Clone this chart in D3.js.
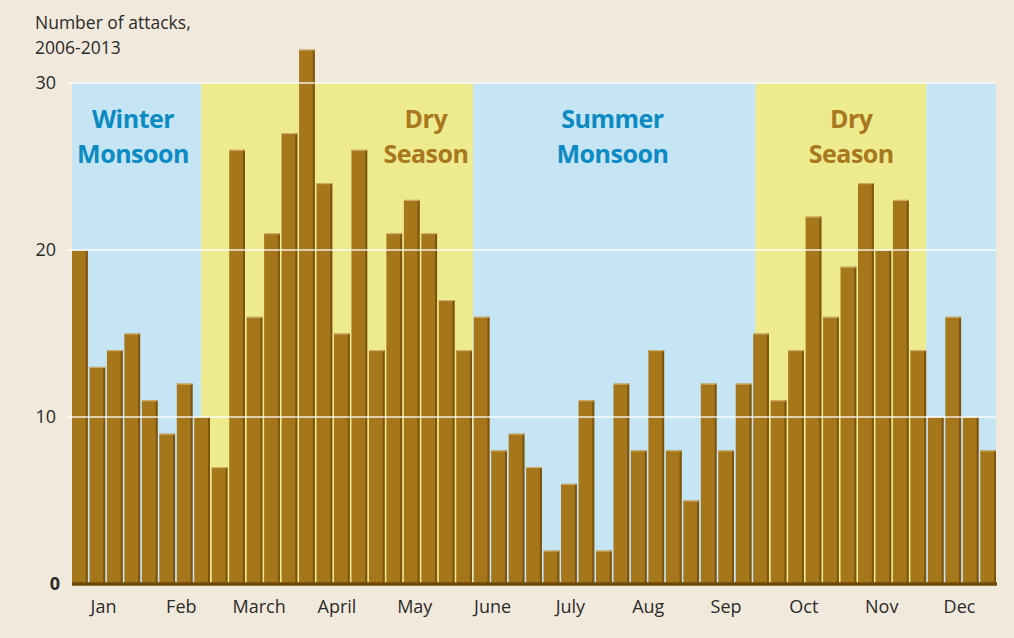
<!DOCTYPE html>
<html lang="en">
<head>
<meta charset="UTF-8">
<title>Number of attacks, 2006-2013</title>
<script src="https://d3js.org/d3.v7.min.js"></script>
<style>
  html, body { margin: 0; padding: 0; background: #f2e9dd; }
  svg { display: block; font-family: "Open Sans", "Noto Sans", sans-serif; }
</style>
</head>
<body>
<svg id="chart" width="1014" height="638"></svg>
<script>
// weekly attack counts, Jan -> Dec (53 weeks)
const attacks = [20, 13, 14, 15, 11, 9, 12, 10, 7, 26, 16, 21, 27, 32, 24, 15, 26, 14,
  21, 23, 21, 17, 14, 16, 8, 9, 7, 2, 6, 11, 2, 12, 8, 14, 8, 5, 12, 8, 12, 15,
  11, 14, 22, 16, 19, 24, 20, 23, 14, 10, 16, 10, 8];
const months = ["Jan", "Feb", "March", "April", "May", "June", "July", "Aug", "Sep", "Oct", "Nov", "Dec"];
const yTicks = [0, 10, 20, 30];

// seasons, in weeks
const seasonNames = [["Winter", "Monsoon"], ["Dry", "Season"], ["Summer", "Monsoon"], ["Dry", "Season"], null];
const seasonStart = [0, 7.4, 23, 39.2, 49];
const seasonEnd = [7.4, 23, 39.2, 49, 53];
const seasonWet = [true, false, true, false, true];
const seasonLabelWeek = [3.5, 20.3, 31, 44.7, null];

const svg = d3.select("#chart");
const plotLeft = 72, plotRight = 996, plotTop = 83, plotBottom = 584;

const x = d3.scaleBand().domain(d3.range(attacks.length)).range([plotLeft, plotRight]).paddingInner(0.1);
const xw = d3.scaleLinear().domain([0, attacks.length]).range([plotLeft, plotRight]);
const y = d3.scaleLinear().domain([0, 30]).range([plotBottom, plotTop]);
const xm = d3.scalePoint().domain(months).range([103, 959]);

// season bands
const seasons = d3.range(seasonStart.length);
svg.append("g").selectAll("rect").data(seasons).join("rect")
  .attr("x", i => xw(seasonStart[i]))
  .attr("width", i => xw(seasonEnd[i]) - xw(seasonStart[i]))
  .attr("y", y(30))
  .attr("height", y(0) - y(30))
  .attr("fill", i => seasonWet[i] ? "#c5e5f4" : "#eeea8e");

// season labels
const lab = svg.append("g").selectAll("text").data(seasons.filter(i => seasonNames[i])).join("text")
  .attr("x", i => xw(seasonLabelWeek[i]))
  .attr("y", 128)
  .attr("text-anchor", "middle")
  .attr("font-size", 25)
  .attr("font-weight", 700)
  .attr("letter-spacing", -0.5)
  .attr("fill", i => seasonWet[i] ? "#0b8ac3" : "#a8781e");
lab.append("tspan").attr("x", i => xw(seasonLabelWeek[i])).text(i => seasonNames[i][0]);
lab.append("tspan").attr("x", i => xw(seasonLabelWeek[i])).attr("dy", 35).text(i => seasonNames[i][1]);

// bars
const bars = svg.append("g").selectAll("g").data(attacks).join("g");
bars.append("rect")
  .attr("x", (d, i) => x(i))
  .attr("y", d => y(d))
  .attr("width", x.bandwidth())
  .attr("height", d => y(0) - y(d))
  .attr("fill", "#a6761a");
bars.append("rect")
  .attr("x", (d, i) => x(i) + x.bandwidth() - 2)
  .attr("y", d => y(d))
  .attr("width", 2)
  .attr("height", d => y(0) - y(d))
  .attr("fill", "#7b540f");
bars.append("rect")
  .attr("x", (d, i) => x(i))
  .attr("y", d => y(d))
  .attr("width", x.bandwidth())
  .attr("height", 1)
  .attr("fill", "#d4b272");

// gridlines over the bars
svg.append("g").selectAll("line").data(yTicks.filter(t => t > 0)).join("line")
  .attr("x1", 67).attr("x2", plotRight)
  .attr("y1", d => y(d)).attr("y2", d => y(d))
  .attr("stroke", "#ffffff")
  .attr("stroke-width", 2)
  .attr("stroke-opacity", 0.65);

// baseline
svg.append("line")
  .attr("x1", plotLeft).attr("x2", plotRight + 1)
  .attr("y1", y(0)).attr("y2", y(0))
  .attr("stroke", "#6f4a08")
  .attr("stroke-width", 3.5);

// y tick labels
svg.append("g").selectAll("text").data(yTicks).join("text")
  .attr("x", d => d === 0 ? 60 : 56)
  .attr("y", d => y(d))
  .attr("dy", "0.36em")
  .attr("text-anchor", "end")
  .attr("font-size", 18)
  .attr("font-weight", d => d === 0 ? 700 : 400)
  .attr("fill", "#2b2b2b")
  .text(d => d);

// month axis
const xAxis = svg.append("g")
  .attr("transform", `translate(0,${y(0)})`)
  .call(d3.axisBottom(xm).tickSize(0).tickPadding(16));
xAxis.select(".domain").remove();
xAxis.selectAll("text")
  .attr("font-family", "\"Open Sans\", \"Noto Sans\", sans-serif")
  .attr("font-size", 18)
  .attr("fill", "#2b2b2b");

// title
const title = svg.append("text")
  .attr("x", 35).attr("y", 29)
  .attr("font-size", 17.5)
  .attr("fill", "#2b2b2b");
title.append("tspan").attr("x", 35).text("Number of attacks,");
title.append("tspan").attr("x", 35).attr("dy", 25).text("2006-2013");
</script>
</body>
</html>
